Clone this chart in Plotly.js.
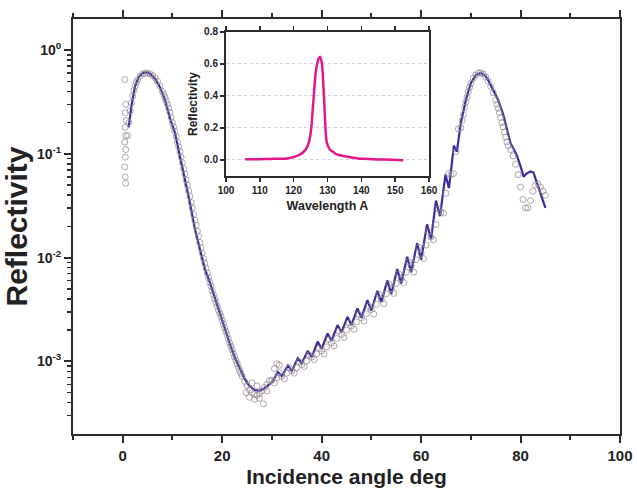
<!DOCTYPE html>
<html><head><meta charset="utf-8">
<script src="https://cdn.plot.ly/plotly-3.0.1.min.js"></script>
<style>html,body{margin:0;padding:0;background:#fff}#chart{width:637px;height:491px}</style>
</head><body><div id="chart"></div>
<script>
// Model (solid blue line)
const angleModel = [1.2,1.8,2.5,3.2,4.0,4.8,5.6,6.5,7.5,8.5,9.5,10.5,11.5,12.5,13.5,14.5,15.5,16.5,17.5,18.5,19.5,20.5,21.5,22.5,23.5,24.5,25.5,26.5,27.5,28.5,29.5,
30.0,31.2,32.0,33.2,34.0,35.2,36.0,37.2,38.0,39.2,40.0,41.2,42.0,43.2,44.0,45.2,46.0,47.2,48.0,49.2,50.0,51.2,52.0,53.2,54.0,55.2,56.0,57.2,58.0,59.2,
60.0,61.2,62.0,63.0,63.8,64.9,65.6,66.6,67.2,68.0,69.0,70.0,71.0,72.0,72.8,73.5,74.5,75.5,76.5,77.3,78.0,78.6,79.3,80.0,80.6,81.2,82.0,82.6,83.5,84.3,85.0];
const reflModel = [0.18,0.3,0.45,0.55,0.6,0.61,0.59,0.53,0.44,0.33,0.22,0.16,0.095,0.058,0.034,0.019,0.012,0.0078,0.0058,0.0041,0.0029,0.0021,0.0015,0.0011,0.00085,0.00068,0.00058,0.00053,0.00052,0.00055,0.0006,
0.00063,0.00079,0.00072,0.00091,0.00081,0.00107,0.00096,0.00126,0.0011,0.00155,0.00132,0.00186,0.00158,0.00224,0.00191,0.00269,0.00224,0.00324,0.00263,0.00389,0.00309,0.00479,0.00372,0.00603,0.00447,0.00776,0.00562,0.0102,0.00724,0.0138,
0.00955,0.0209,0.0151,0.0355,0.0251,0.0631,0.0468,0.12,0.105,0.2,0.331,0.479,0.575,0.603,0.575,0.513,0.417,0.331,0.24,0.166,0.126,0.112,0.0955,0.0759,0.0603,0.0646,0.0676,0.0661,0.0501,0.038,0.0302];

// Measured (open grey circles)
const angleMeas = [0.4,0.6,0.5,0.7,0.5,0.6,0.4,0.6,0.5,0.4,0.5,0.6,
1.0,1.5,2.0,2.5,3.0,3.5,4.0,4.5,5.0,5.5,6.0,6.5,7.0,7.5,8.0,8.5,9.0,9.5,10.0,10.5,11.0,11.5,12.0,12.5,13.0,13.5,14.0,14.5,15.0,15.5,
16.0,16.5,17.0,17.5,18.0,18.5,19.0,19.5,20.0,20.5,21.0,21.5,22.0,22.5,23.0,23.5,24.0,24.5,25.0,25.5,26.0,26.5,27.0,27.5,28.0,28.5,29.0,29.5,
1.25,1.75,2.25,2.75,8.25,8.75,9.25,9.75,10.25,10.75,11.25,11.75,12.25,12.75,13.25,13.75,14.25,14.75,15.25,15.75,
16.25,16.75,17.25,17.75,18.25,18.75,19.25,19.75,20.25,20.75,21.25,21.75,22.25,22.75,23.25,23.75,
24.8,25.5,26.0,26.5,27.0,27.5,28.3,29.0,30.5,31.0,31.5,
30.0,30.5,31.0,31.5,32.0,32.5,33.0,33.5,34.0,34.5,35.0,35.5,36.0,36.5,37.0,37.5,38.0,38.5,39.0,39.5,
40.0,40.5,41.0,41.5,42.0,42.5,43.0,43.5,44.0,44.5,45.0,45.5,46.0,46.5,47.0,47.5,48.0,48.5,49.0,49.5,
50.0,50.5,51.0,51.5,52.0,52.5,53.0,53.5,54.0,54.5,55.0,55.5,56.0,56.5,57.0,57.5,58.0,58.5,59.0,59.5,
60.0,60.5,61.0,61.5,62.0,62.5,63.0,63.5,64.0,64.5,65.0,65.5,66.0,66.5,67.0,67.5,68.0,68.5,69.0,69.5,
70.0,70.5,71.0,71.5,72.0,72.5,73.0,73.5,74.0,74.5,75.0,75.5,76.0,76.5,77.0,77.5,78.0,78.5,79.0,79.5,
80.0,80.5,81.0,81.5,82.0,82.5,83.0,83.5,84.0,84.5,85.0,
68.25,68.75,69.25,69.75,75.25,75.75,76.25,76.75,77.25];
const reflMeas = [0.52,0.30,0.25,0.21,0.18,0.15,0.13,0.11,0.093,0.075,0.06,0.052,
0.15,0.26,0.36,0.45,0.52,0.56,0.59,0.6,0.6,0.59,0.57,0.54,0.5,0.45,0.4,0.35,0.3,0.25,0.2,0.165,0.13,0.105,0.082,0.064,0.05,0.039,0.03,0.023,0.018,0.014,
0.011,0.0088,0.0071,0.0058,0.0048,0.004,0.0034,0.0029,0.0025,0.0021,0.0018,0.0015,0.0013,0.0011,0.00095,0.00082,0.00072,0.00064,0.00058,0.00053,0.0005,0.00048,0.00047,0.00049,0.00052,0.00056,0.0006,0.00065,
0.2,0.31,0.41,0.49,0.375,0.325,0.275,0.225,0.182,0.147,0.117,0.093,0.072,0.056,0.044,0.034,0.026,0.0205,0.016,0.0124,
0.0098,0.0079,0.0064,0.0053,0.0044,0.0037,0.0031,0.0027,0.0023,0.00195,0.00165,0.0014,0.0012,0.00102,0.00088,0.00077,
0.0005,0.00045,0.00062,0.00043,0.00058,0.00044,0.00039,0.00052,0.00085,0.00095,0.00092,
0.00066,0.00062,0.00069,0.00078,0.00072,0.00068,0.00077,0.00087,0.00081,0.00077,0.00087,0.00099,0.00093,0.00089,0.00101,0.00115,0.0011,0.00104,0.00118,0.00133,
0.00126,0.00118,0.00138,0.00162,0.00151,0.00141,0.00166,0.00195,0.00182,0.0017,0.002,0.00234,0.00219,0.00204,0.0024,0.00282,0.00263,0.00245,0.00288,0.00339,
0.00316,0.00285,0.00355,0.00442,0.00398,0.00359,0.00447,0.00556,0.00501,0.00452,0.00562,0.007,0.00631,0.00575,0.00724,0.00912,0.00832,0.00724,0.00955,0.0126,
0.011,0.00977,0.0132,0.0178,0.0158,0.0148,0.0209,0.0295,0.0275,0.0269,0.0417,0.0646,0.0631,0.0646,0.105,0.174,0.178,0.24,0.316,0.398,
0.479,0.537,0.575,0.603,0.603,0.589,0.55,0.501,0.447,0.389,0.331,0.275,0.224,0.182,0.145,0.12,0.11,0.0955,0.0794,0.0631,
0.0479,0.0363,0.0302,0.0302,0.0355,0.0437,0.0501,0.0513,0.0479,0.0437,0.0398,
0.21,0.28,0.355,0.44,0.30,0.25,0.2,0.163,0.13];

// Inset: reflectivity vs wavelength
const wavelength = [105.7,108,110,112,114,116,118,119.1,120,121,121.9,122.9,123.9,124.9,125.8,126.6,127.3,127.8,128.3,128.8,129.3,129.8,130.7,131.7,132.7,133.7,134.7,136,137.6,139,140.6,143,146,149,152.4];
const reflWave = [0.004,0.005,0.005,0.006,0.007,0.008,0.01,0.014,0.019,0.026,0.035,0.05,0.077,0.15,0.36,0.56,0.63,0.645,0.61,0.46,0.25,0.11,0.066,0.05,0.035,0.03,0.025,0.02,0.014,0.01,0.007,0.005,0.003,0.001,-0.002];

// Tick labels
const yTickVals = [1, 0.1, 0.01, 0.001];
const yTickText = ['10<sup>0</sup>', '10<sup>-1</sup>', '10<sup>-2</sup>', '10<sup>-3</sup>'];
const yMinorTicks = [0.0003,0.0004,0.0005,0.0006,0.0007,0.0008,0.0009,
  0.002,0.003,0.004,0.005,0.006,0.007,0.008,0.009,
  0.02,0.03,0.04,0.05,0.06,0.07,0.08,0.09,
  0.2,0.3,0.4,0.5,0.6,0.7,0.8,0.9,2];

const axisColor = '#2d2a30';
const bold = {family: 'Liberation Sans, Arial, sans-serif', color: '#222', weight: 700};

const traces = [
  {x: angleModel, y: reflModel, type: 'scatter', mode: 'lines',
   line: {color: '#3b2c9c', width: 2.2}, xaxis: 'x', yaxis: 'y', hoverinfo: 'skip'},
  {x: angleMeas, y: reflMeas, type: 'scatter', mode: 'markers',
   marker: {symbol: 'circle-open', size: 6, color: 'rgba(150,138,145,0.75)', line: {width: 1}},
   xaxis: 'x', yaxis: 'y', hoverinfo: 'skip'},
  {x: wavelength, y: reflWave, type: 'scatter', mode: 'lines',
   line: {color: '#e4178a', width: 2.5, shape: 'spline'}, xaxis: 'x2', yaxis: 'y2', hoverinfo: 'skip'}
];

const layout = {
  width: 637, height: 491,
  margin: {l: 73, r: 17, t: 19, b: 57},
  paper_bgcolor: '#fff', plot_bgcolor: '#fff',
  showlegend: false,
  xaxis: {
    range: [-10, 100], tickmode: 'linear', tick0: 0, dtick: 20,
    ticks: 'outside', ticklen: 7, tickwidth: 2, tickcolor: axisColor,
    minor: {ticks: 'outside', ticklen: 4, tickwidth: 2, tickcolor: axisColor, dtick: 10, tick0: 0},
    showline: true, linecolor: axisColor, linewidth: 2, mirror: 'ticks',
    showgrid: false, zeroline: false,
    tickfont: Object.assign({size: 15}, bold),
    title: {text: 'Incidence angle deg', font: Object.assign({size: 21}, bold), standoff: 6}
  },
  yaxis: {
    type: 'log', range: [-3.70, 0.30],
    tickmode: 'array', tickvals: yTickVals, ticktext: yTickText,
    ticks: 'outside', ticklen: 7, tickwidth: 2, tickcolor: axisColor,
    minor: {ticks: 'outside', ticklen: 4, tickwidth: 1.5, tickcolor: axisColor, tickmode: 'array', tickvals: yMinorTicks},
    showline: true, linecolor: axisColor, linewidth: 2, mirror: true,
    showgrid: false, zeroline: false,
    tickfont: Object.assign({size: 14}, bold),
    title: {text: 'Reflectivity', font: Object.assign({size: 30}, bold), standoff: 0}
  },
  xaxis2: {
    domain: [0.2797, 0.6508], anchor: 'y2', range: [100, 160], tickmode: 'linear', tick0: 100, dtick: 10,
    ticks: 'outside', ticklen: 4, tickwidth: 1.5, tickcolor: axisColor,
    showline: true, linecolor: axisColor, linewidth: 2, mirror: 'ticks',
    showgrid: false, zeroline: false,
    tickfont: Object.assign({size: 10}, bold),
    title: {text: 'Wavelength A', font: Object.assign({size: 12.5}, bold), standoff: 6}
  },
  yaxis2: {
    domain: [0.6217, 0.9687], anchor: 'x2', range: [-0.1, 0.8], tickmode: 'linear', tick0: 0, dtick: 0.2,
    tickformat: '.1f',
    ticks: 'outside', ticklen: 4, tickwidth: 1.5, tickcolor: axisColor,
    showline: true, linecolor: axisColor, linewidth: 2, mirror: true,
    showgrid: true, gridcolor: '#d9c9e6', griddash: 'dot', gridwidth: 1, zeroline: false,
    tickfont: Object.assign({size: 10}, bold),
    title: {text: 'Reflectivity', font: Object.assign({size: 12}, bold), standoff: 4}
  }
};

Plotly.newPlot('chart', traces, layout, {staticPlot: true, displayModeBar: false});
</script>
</body></html>
